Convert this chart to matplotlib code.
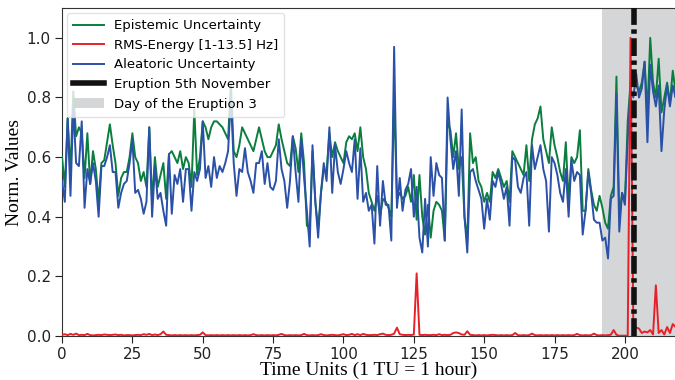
import numpy as np
import matplotlib
matplotlib.use("Agg")
import matplotlib.pyplot as plt

# time axis (1 TU = 1 hour)
t = np.arange(220)

epistemic = [
    0.60, 0.50, 0.73, 0.55, 0.82, 0.67, 0.70, 0.68, 0.53, 0.68,
    0.51, 0.62, 0.56, 0.45, 0.58, 0.59, 0.65, 0.71, 0.64, 0.58,
    0.47, 0.53, 0.55, 0.55, 0.60, 0.68, 0.60, 0.58, 0.52, 0.55,
    0.50, 0.70, 0.45, 0.60, 0.50, 0.54, 0.58, 0.46, 0.61, 0.62,
    0.60, 0.58, 0.62, 0.56, 0.60, 0.58, 0.50, 0.76, 0.54, 0.60,
    0.72, 0.70, 0.66, 0.70, 0.72, 0.72, 0.71, 0.70, 0.68, 0.66,
    0.85, 0.62, 0.60, 0.64, 0.70, 0.68, 0.66, 0.64, 0.62, 0.66,
    0.70, 0.66, 0.62, 0.60, 0.60, 0.62, 0.64, 0.71, 0.66, 0.62,
    0.58, 0.57, 0.67, 0.63, 0.55, 0.68, 0.58, 0.37, 0.36, 0.62,
    0.45, 0.36, 0.48, 0.56, 0.55, 0.68, 0.60, 0.65, 0.62, 0.60,
    0.58, 0.65, 0.67, 0.66, 0.68, 0.62, 0.70, 0.60, 0.56, 0.48,
    0.45, 0.42, 0.47, 0.40, 0.46, 0.45, 0.43, 0.40, 0.80, 0.46,
    0.48, 0.46, 0.47, 0.50, 0.45, 0.54, 0.39, 0.54, 0.40, 0.34,
    0.44, 0.33, 0.42, 0.45, 0.44, 0.42, 0.32, 0.72, 0.69, 0.60,
    0.68, 0.56, 0.60, 0.40, 0.32, 0.68, 0.58, 0.60, 0.52, 0.50,
    0.45, 0.48, 0.45, 0.55, 0.53, 0.56, 0.53, 0.50, 0.52, 0.45,
    0.62, 0.60, 0.58, 0.56, 0.54, 0.64, 0.52, 0.66, 0.71, 0.73,
    0.77, 0.66, 0.62, 0.58, 0.70, 0.64, 0.60, 0.55, 0.52, 0.65,
    0.45, 0.60, 0.58, 0.60, 0.69, 0.42, 0.42, 0.56, 0.49, 0.44,
    0.42, 0.47, 0.43, 0.38, 0.36, 0.47, 0.50, 0.87, 0.40, 0.48,
    0.45, 0.72, 0.85, 0.85, 0.84, 0.82, 0.85, 0.92, 0.75, 1.00,
    0.85, 0.80, 0.93, 0.75, 0.80, 0.85, 0.78, 0.89, 0.82, 0.88,
]

aleatoric = [
    0.52, 0.45, 0.73, 0.47, 0.77, 0.58, 0.57, 0.72, 0.43, 0.56,
    0.51, 0.58, 0.52, 0.40, 0.57, 0.57, 0.60, 0.64, 0.55, 0.55,
    0.43, 0.48, 0.51, 0.52, 0.58, 0.66, 0.48, 0.49, 0.46, 0.41,
    0.45, 0.70, 0.40, 0.57, 0.46, 0.48, 0.42, 0.37, 0.61, 0.41,
    0.54, 0.51, 0.56, 0.45, 0.56, 0.56, 0.42, 0.55, 0.52, 0.56,
    0.72, 0.53, 0.57, 0.50, 0.60, 0.53, 0.57, 0.55, 0.58, 0.62,
    0.80, 0.58, 0.47, 0.56, 0.55, 0.63, 0.55, 0.52, 0.48, 0.58,
    0.58, 0.62, 0.51, 0.58, 0.50, 0.49, 0.52, 0.66, 0.56, 0.52,
    0.43, 0.52, 0.67, 0.55, 0.45, 0.66, 0.53, 0.42, 0.30, 0.64,
    0.45, 0.33, 0.48, 0.58, 0.52, 0.70, 0.48, 0.64, 0.55, 0.51,
    0.56, 0.62, 0.58, 0.55, 0.66, 0.46, 0.63, 0.45, 0.48, 0.42,
    0.44, 0.31, 0.57, 0.37, 0.52, 0.44, 0.44, 0.32, 0.97, 0.43,
    0.53, 0.42, 0.49, 0.51, 0.56, 0.40, 0.50, 0.33, 0.28, 0.46,
    0.30, 0.60, 0.47, 0.58, 0.54, 0.53, 0.32, 0.80, 0.66, 0.56,
    0.62, 0.47, 0.76, 0.40, 0.28, 0.55, 0.56, 0.52, 0.49, 0.46,
    0.36, 0.46, 0.39, 0.52, 0.50, 0.55, 0.51, 0.46, 0.50, 0.37,
    0.60, 0.59, 0.50, 0.48, 0.53, 0.55, 0.37, 0.64, 0.56, 0.60,
    0.64, 0.56, 0.52, 0.35, 0.60, 0.58, 0.54, 0.48, 0.45, 0.56,
    0.40, 0.59, 0.52, 0.55, 0.54, 0.34, 0.42, 0.55, 0.48, 0.39,
    0.38, 0.38, 0.32, 0.33, 0.26, 0.46, 0.47, 0.81, 0.35, 0.48,
    0.44, 0.66, 0.83, 0.80, 0.88, 0.80, 0.83, 0.92, 0.65, 0.91,
    0.82, 0.77, 0.84, 0.62, 0.76, 0.84, 0.77, 0.84, 0.80, 0.85,
]

rms_energy = [
    0.004, 0.006, 0.003, 0.007, 0.004, 0.008, 0.003, 0.004, 0.003, 0.007,
    0.003, 0.002, 0.003, 0.004, 0.003, 0.005, 0.004, 0.003, 0.004, 0.005,
    0.003, 0.004, 0.002, 0.003, 0.003, 0.002, 0.003, 0.004, 0.003, 0.006,
    0.004, 0.007, 0.003, 0.005, 0.003, 0.006, 0.015, 0.004, 0.003, 0.002,
    0.003, 0.002, 0.003, 0.002, 0.003, 0.002, 0.003, 0.002, 0.003, 0.004,
    0.012, 0.003, 0.002, 0.003, 0.002, 0.003, 0.002, 0.003, 0.002, 0.003,
    0.002, 0.003, 0.002, 0.003, 0.002, 0.003, 0.002, 0.003, 0.006, 0.003,
    0.002, 0.003, 0.002, 0.003, 0.002, 0.003, 0.002, 0.004, 0.007, 0.003,
    0.002, 0.003, 0.002, 0.003, 0.002, 0.003, 0.007, 0.003, 0.002, 0.003,
    0.002, 0.003, 0.006, 0.003, 0.002, 0.003, 0.004, 0.003, 0.002, 0.004,
    0.006, 0.003, 0.004, 0.007, 0.003, 0.006, 0.003, 0.007, 0.004, 0.003,
    0.003, 0.004, 0.003, 0.006, 0.008, 0.004, 0.003, 0.004, 0.008, 0.028,
    0.006, 0.004, 0.003, 0.004, 0.003, 0.005, 0.210, 0.004, 0.003, 0.004,
    0.003, 0.003, 0.004, 0.003, 0.006, 0.003, 0.004, 0.003, 0.004, 0.010,
    0.012, 0.010, 0.005, 0.004, 0.016, 0.004, 0.003, 0.002, 0.003, 0.002,
    0.003, 0.002, 0.003, 0.004, 0.003, 0.002, 0.003, 0.002, 0.003, 0.002,
    0.003, 0.010, 0.003, 0.002, 0.003, 0.002, 0.003, 0.008, 0.003, 0.002,
    0.003, 0.002, 0.003, 0.002, 0.003, 0.002, 0.003, 0.002, 0.003, 0.002,
    0.003, 0.002, 0.003, 0.007, 0.003, 0.002, 0.003, 0.002, 0.003, 0.008,
    0.003, 0.002, 0.003, 0.002, 0.003, 0.004, 0.020, 0.004, 0.001, 0.001,
    0.001, 0.001, 1.000, 0.030, 0.028, 0.025, 0.010, 0.015, 0.012, 0.020,
    0.005, 0.170, 0.010, 0.020, 0.005, 0.030, 0.010, 0.040, 0.030, 0.040,
]

eruption_t = 203.3
day3_start = 192

xticks = [0, 25, 50, 75, 100, 125, 150, 175, 200]
yticks = [0.0, 0.2, 0.4, 0.6, 0.8, 1.0]

fig = plt.figure(figsize=(6.75, 3.8), dpi=100)
ax = fig.add_axes([0.0919, 0.1158, 0.9081, 0.863])

ax.plot(t, epistemic, color='#0b7d3e', lw=1.4, label='Epistemic Uncertainty', zorder=3)
ax.plot(t, rms_energy, color='#e8202a', lw=1.4, label='RMS-Energy [1-13.5] Hz]', zorder=4)
ax.plot(t, aleatoric, color='#2a50a8', lw=1.4, label='Aleatoric Uncertainty', zorder=3)
ax.axvline(eruption_t, color='#111111', lw=4, linestyle=(0, (3.2, 0.8, 0.8, 0.8)),
           label='Eruption 5th November', zorder=5)
ax.axvspan(day3_start, 230, color='#d5d6d8', lw=0, label='Day of the Eruption 3', zorder=1)

ax.set_xlim(0, 217.8)
ax.set_ylim(0, 1.1)
ax.set_xticks(xticks)
ax.set_yticks(yticks)
ax.set_yticklabels([f'{v:.1f}' for v in yticks])
ax.tick_params(labelsize=11, direction='out', length=5, pad=3, colors='#222222')

for side in ['left', 'bottom', 'top']:
    ax.spines[side].set_color('#333333')
ax.spines['right'].set_visible(False)

ax.set_xlabel('Time Units (1 TU = 1 hour)', family='Liberation Serif', fontsize=14, labelpad=0)
ax.set_ylabel('Norm. Values', family='Liberation Serif', fontsize=14, labelpad=3)

leg = ax.legend(loc='upper left', fontsize=9.5, frameon=True, handlelength=2.3,
                borderpad=0.45, labelspacing=0.5, borderaxespad=0.4)
leg.get_frame().set_edgecolor('#dddddd')
leg.set_zorder(10)
# solid swatch for the eruption marker in the legend
leg.get_lines()[3].set_linestyle('-')

fig.savefig('out.png', dpi=100)
